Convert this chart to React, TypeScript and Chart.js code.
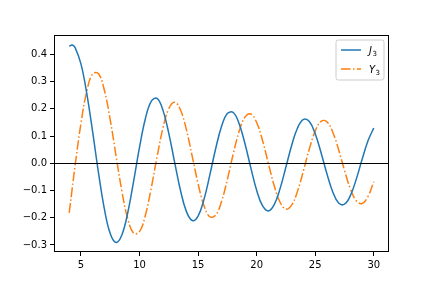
import { useEffect, useRef } from 'react';
import { Chart, registerables } from 'chart.js';

Chart.register(...registerables);

const xs = [4, 4.25, 4.5, 5, 5.5, 6, 6.5, 7, 7.5, 8, 8.5, 9, 9.5, 10, 10.5, 11, 11.5, 12, 12.5, 13, 13.5, 14, 14.5, 15, 15.5, 16, 16.5, 17, 17.5, 18, 18.5, 19, 19.5, 20, 20.5, 21, 21.5, 22, 22.5, 23, 23.5, 24, 24.5, 25, 25.5, 26, 26.5, 27, 27.5, 28, 28.5, 29, 29.5, 30];

const j3 = [0.4302, 0.4341, 0.4247, 0.3648, 0.2561, 0.1148, -0.0354, -0.1676, -0.2581, -0.2911, -0.2626, -0.1809, -0.0653, 0.0584, 0.1633, 0.2273, 0.2381, 0.1951, 0.1099, 0.0033, -0.1001, -0.1768, -0.2102, -0.194, -0.1335, -0.0439, 0.0532, 0.1349, 0.1827, 0.1863, 0.1461, 0.0725, -0.0163, -0.0989, -0.1561, -0.175, -0.1519, -0.0933, -0.0138, 0.0672, 0.1304, 0.1613, 0.153, 0.1084, 0.0387, -0.0389, -0.1057, -0.1459, -0.1504, -0.1188, -0.0592, 0.0135, 0.0818, 0.1292];

const y3 = [-0.182, -0.0944, -0.009, 0.1463, 0.2644, 0.3282, 0.3288, 0.2681, 0.1596, 0.0265, -0.1039, -0.2051, -0.2573, -0.2514, -0.191, -0.0915, 0.0239, 0.129, 0.2008, 0.2242, 0.1957, 0.1235, 0.0255, -0.0751, -0.155, -0.1964, -0.1908, -0.1408, -0.0593, 0.0337, 0.1163, 0.1693, 0.181, 0.1497, 0.0837, -0.0005, -0.0826, -0.1432, -0.1684, -0.153, -0.1015, -0.0269, 0.0526, 0.1179, 0.1538, 0.1521, 0.1141, 0.0494, -0.0259, -0.0936, -0.1377, -0.1479, -0.1225, -0.068];

const xTicks = [5, 10, 15, 20, 25, 30];
const yTicks = [-0.3, -0.2, -0.1, 0.0, 0.1, 0.2, 0.3, 0.4];
const seriesNames = ['J', 'Y'];
const seriesSub = ['3', '3'];
const colors = ['#1f77b4', '#ff7f0e'];
const FONT = '"DejaVu Sans", sans-serif';

const fmtNum = (v: number, d: number) => {
  const s = Math.abs(v).toFixed(d);
  return (v < -1e-9 ? '\u2212' : '') + s;
};

const framePlugin = {
  id: 'frame',
  afterDatasetsDraw(chart: any) {
    const { ctx, chartArea: a, scales } = chart;
    ctx.save();
    // zero line
    const y0 = Math.round(scales.y.getPixelForValue(0)) + 0.5;
    ctx.strokeStyle = '#000';
    ctx.lineWidth = 1;
    ctx.beginPath();
    ctx.moveTo(a.left, y0);
    ctx.lineTo(a.right, y0);
    ctx.stroke();
    ctx.restore();
  },
  afterDraw(chart: any) {
    const { ctx, chartArea: a } = chart;
    ctx.save();
    // spines
    ctx.strokeStyle = '#000';
    ctx.lineWidth = 1;
    ctx.strokeRect(a.left + 0.5, a.top + 0.5, a.right - a.left - 1, a.bottom - a.top - 1);

    // legend
    const bw = 48;
    const bh = 40;
    const bx = a.right - 5 - bw;
    const by = a.top + 5;
    const r = 2.5;
    ctx.beginPath();
    ctx.moveTo(bx + r, by);
    ctx.lineTo(bx + bw - r, by);
    ctx.quadraticCurveTo(bx + bw, by, bx + bw, by + r);
    ctx.lineTo(bx + bw, by + bh - r);
    ctx.quadraticCurveTo(bx + bw, by + bh, bx + bw - r, by + bh);
    ctx.lineTo(bx + r, by + bh);
    ctx.quadraticCurveTo(bx, by + bh, bx, by + bh - r);
    ctx.lineTo(bx, by + r);
    ctx.quadraticCurveTo(bx, by, bx + r, by);
    ctx.closePath();
    ctx.fillStyle = 'rgba(255,255,255,0.8)';
    ctx.fill();
    ctx.strokeStyle = '#cccccc';
    ctx.lineWidth = 1;
    ctx.stroke();

    const rows = [by + 10, by + 29];
    chart.data.datasets.forEach((ds: any, i: number) => {
      const ry = rows[i];
      ctx.strokeStyle = ds.borderColor;
      ctx.lineWidth = 1.5;
      ctx.setLineDash(ds.borderDash || []);
      ctx.beginPath();
      ctx.moveTo(bx + 5, ry);
      ctx.lineTo(bx + 25, ry);
      ctx.stroke();
      ctx.setLineDash([]);
      ctx.fillStyle = '#000';
      ctx.textBaseline = 'alphabetic';
      ctx.textAlign = 'left';
      ctx.font = `italic 10px ${FONT}`;
      const tx = bx + 33;
      ctx.fillText(seriesNames[i], tx, ry + 4);
      const w = ctx.measureText(seriesNames[i]).width;
      ctx.font = `7px ${FONT}`;
      ctx.fillText(seriesSub[i], tx + w + 0.5, ry + 6);
    });
    ctx.restore();
  },
};

export default function App() {
  const ref = useRef<HTMLCanvasElement>(null);
  useEffect(() => {
    if (!ref.current) return;
    const chart = new Chart(ref.current, {
      type: 'line',
      data: {
        datasets: [
          {
            label: 'J_3',
            data: xs.map((x, i) => ({ x, y: j3[i] })),
            borderColor: colors[0],
            borderWidth: 1.5,
            pointRadius: 0,
            tension: 0.4,
            fill: false,
          },
          {
            label: 'Y_3',
            data: xs.map((x, i) => ({ x, y: y3[i] })),
            borderColor: colors[1],
            borderWidth: 1.5,
            borderDash: [9.6, 2.4, 1.5, 2.4],
            pointRadius: 0,
            tension: 0.4,
            fill: false,
          },
        ],
      },
      options: {
        animation: false,
        responsive: false,
        devicePixelRatio: 1,
        layout: { padding: { left: 0, top: 35, right: 43, bottom: 0 } },
        plugins: { legend: { display: false }, tooltip: { enabled: false } },
        scales: {
          x: {
            type: 'linear',
            min: 2.7,
            max: 31.3,
            afterFit: (s: any) => { s.height = 36; },
            afterBuildTicks: (s: any) => { s.ticks = xTicks.map((v) => ({ value: v })); },
            grid: { drawOnChartArea: false, drawTicks: true, tickLength: 4, color: '#000', lineWidth: 1 },
            border: { display: false },
            ticks: {
              padding: 3,
              color: '#000',
              font: { family: FONT, size: 10 },
              maxRotation: 0,
              callback: (v: any) => fmtNum(Number(v), 0),
            },
          },
          y: {
            type: 'linear',
            min: -0.326,
            max: 0.471,
            afterFit: (s: any) => { s.width = 54; },
            afterBuildTicks: (s: any) => { s.ticks = yTicks.map((v) => ({ value: v })); },
            grid: { drawOnChartArea: false, drawTicks: true, tickLength: 4, color: '#000', lineWidth: 1 },
            border: { display: false },
            ticks: {
              padding: 3,
              color: '#000',
              font: { family: FONT, size: 10 },
              callback: (v: any) => fmtNum(Number(v), 1),
            },
          },
        },
      },
      plugins: [framePlugin],
    });
    return () => chart.destroy();
  }, []);
  return (
    <div style={{ position: 'absolute', left: 0, top: 0, width: 432, height: 288, background: '#fff' }}>
      <canvas ref={ref} width={432} height={288} style={{ width: 432, height: 288, display: 'block' }} />
    </div>
  );
}
